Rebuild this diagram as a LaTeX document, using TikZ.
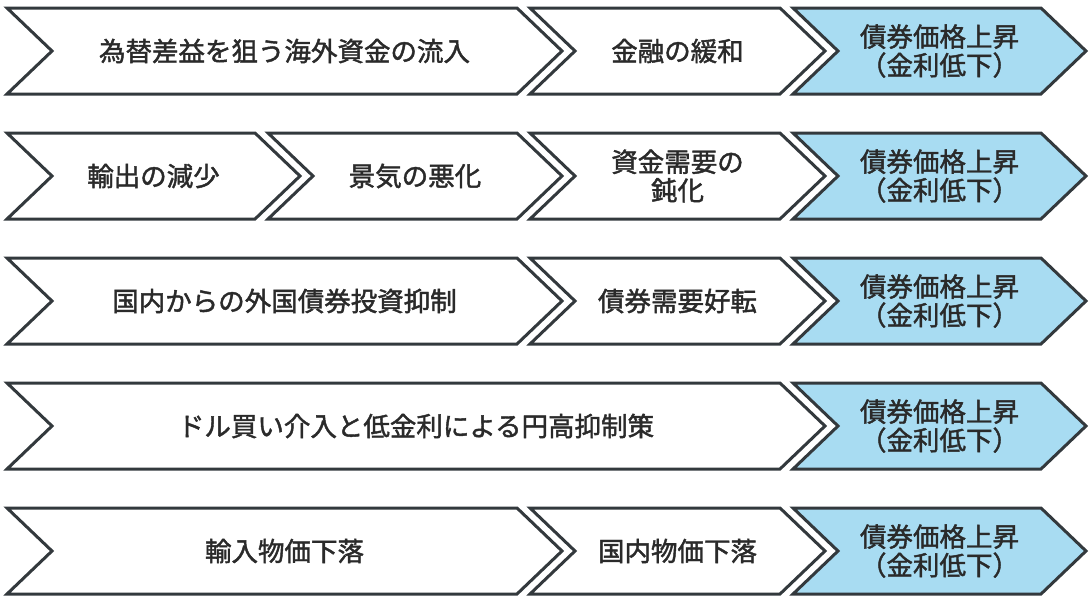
\documentclass[tikz,border=0pt]{standalone}
\usepackage{fontspec}
\setmainfont{Noto Sans CJK JP}[FakeBold=1.6]
\definecolor{edgegray}{HTML}{33393D}
\definecolor{textgray}{HTML}{2A2A2A}
\definecolor{bondblue}{HTML}{A8DCF2}
\begin{document}
\begin{tikzpicture}[x=1pt, y=-1pt,
  chev/.style={draw=edgegray, line width=3pt, line join=miter, fill=#1},
  chev/.default=white,
  steptext/.style={text=textgray, align=center, inner sep=0pt,
    font=\fontsize{26.5}{28.5}\selectfont}]
  \useasboundingbox (0,0) rectangle (1089,600);

  % White chevrons: left x / right x / top y / name / text
  \foreach \xa/\xb/\t/\nm/\txt in {
    7/517/8/inflow/{為替差益を狙う海外資金の流入},
    530/780/8/easing/{金融の緩和},
    7/255/133/exports/{輸出の減少},
    268/517/133/slump/{景気の悪化},
    530/780/133/demand/{資金需要の\\鈍化},
    7/517/258/outflow/{国内からの外国債券投資抑制},
    530/780/258/bonddemand/{債券需要好転},
    7/780/383/intervention/{ドル買い介入と低金利による円高抑制策},
    7/517/508/importprice/{輸入物価下落},
    530/780/508/homeprice/{国内物価下落}}{
    \draw[chev] (\xa,\t) -- (\xb,\t) -- ({\xb+45},{\t+43}) -- (\xb,{\t+86})
      -- (\xa,{\t+86}) -- ({\xa+45},{\t+43}) -- cycle;
    \node[steptext] (\nm) at ({(\xa+\xb+45)/2},{\t+43}) {\txt};
  }

  % Result chevrons (blue)
  \foreach \t [count=\r] in {8,133,258,383,508}{
    \draw[chev=bondblue] (793,\t) -- (1041,\t) -- (1086,{\t+43}) -- (1041,{\t+86})
      -- (793,{\t+86}) -- (838,{\t+43}) -- cycle;
    \node[steptext] (rise\r) at (939.5,{\t+43}) {債券価格上昇\\（金利低下）};
  }
\end{tikzpicture}
\end{document}
